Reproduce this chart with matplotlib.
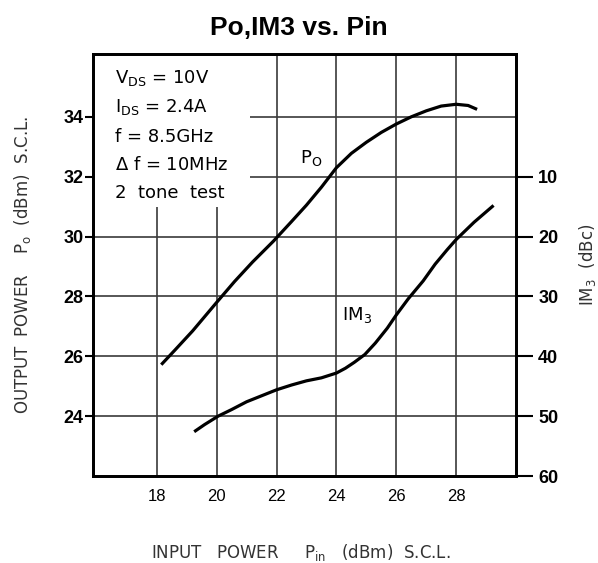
import matplotlib
matplotlib.use('Agg')
import matplotlib.pyplot as plt
from matplotlib.patches import Rectangle

plt.rcParams['font.family'] = ['DejaVu Sans']
plt.rcParams['mathtext.default'] = 'regular'

# Po curve (dBm) vs input power (dBm)
pin_po = [18.15, 18.6, 19.2, 20.0, 20.6, 21.2, 21.9, 22.5, 23.0, 23.5, 24.0, 24.5,
          25.0, 25.5, 26.0, 26.5, 27.0, 27.5, 28.0, 28.4, 28.7]
po = [25.72, 26.2, 26.85, 27.8, 28.5, 29.15, 29.85, 30.5, 31.05, 31.65, 32.3, 32.78,
      33.15, 33.48, 33.76, 34.0, 34.2, 34.36, 34.42, 34.38, 34.25]

# IM3 curve (dBc) vs input power (dBm)
pin_im3 = [19.25, 19.6, 20.05, 20.5, 21.0, 21.5, 22.0, 22.5, 23.0, 23.5, 24.0, 24.3,
           24.6, 24.95, 25.3, 25.7, 26.0, 26.4, 26.9, 27.3, 27.7, 28.0, 28.6, 29.25]
im3 = [52.6, 51.4, 50.0, 48.9, 47.6, 46.6, 45.6, 44.8, 44.1, 43.6, 42.8, 42.0,
       41.0, 39.7, 37.8, 35.3, 33.1, 30.4, 27.4, 24.6, 22.2, 20.5, 17.6, 14.8]

x_ticks = [18, 20, 22, 24, 26, 28]
po_ticks = [24, 26, 28, 30, 32, 34]
im3_ticks = [10, 20, 30, 40, 50, 60]

conditions = [r'V$_{DS}$ = 10V', r'I$_{DS}$ = 2.4A', 'f = 8.5GHz',
              r'$\Delta$ f = 10MHz', '2  tone  test']

fig = plt.figure(figsize=(5.98, 5.63), dpi=100)
ax = fig.add_axes([0.1555, 0.1545, 0.7074, 0.7496])
ax.set_xlim(15.87, 30.0)
ax.set_ylim(22.0, 36.1)

ax.set_xticks(x_ticks)
ax.set_yticks(po_ticks)
ax.grid(True, color='#3a3a3a', linewidth=1.2)
ax.set_axisbelow(True)
ax.tick_params(axis='x', length=0, pad=9)
ax.tick_params(axis='y', length=6, width=1.5, pad=1)
for lab in ax.get_xticklabels():
    lab.set_fontfamily('Liberation Sans')
    lab.set_fontsize(12)
for lab in ax.get_yticklabels():
    lab.set_fontfamily('Liberation Sans')
    lab.set_fontsize(13)
    lab.set_fontweight('bold')
# only 32 and 34 have outside tick marks
for t in ax.yaxis.get_major_ticks()[:4]:
    t.tick1line.set_visible(False)
for sp in ax.spines.values():
    sp.set_linewidth(2)

# white area behind the test conditions
ax.add_patch(Rectangle((15.87, 31.0), 21.1 - 15.87, 36.1 - 31.0,
                       facecolor='white', edgecolor='none', zorder=1))

ax.plot(pin_po, po, color='black', linewidth=2.3, zorder=3,
        solid_joinstyle='round', solid_capstyle='butt')

ax2 = ax.twinx()
ax2.set_ylim(60, -10.5)
ax2.set_yticks(im3_ticks)
ax2.tick_params(axis='y', length=12, width=1.5, pad=4)
for lab in ax2.get_yticklabels():
    lab.set_fontfamily('Liberation Sans')
    lab.set_fontsize(13)
    lab.set_fontweight('bold')
for sp in ax2.spines.values():
    sp.set_linewidth(2)
ax2.plot(pin_im3, im3, color='black', linewidth=2.3, zorder=3,
         solid_joinstyle='round', solid_capstyle='butt')

ax.text(22.8, 32.63, r'P$_O$', fontsize=13, va='center')
ax.text(24.2, 27.38, r'IM$_3$', fontsize=13, va='center')

y_lines = [35.3, 34.33, 33.33, 32.39, 31.46]
for yv, line in zip(y_lines, conditions):
    ax.text(16.6, yv, line, fontsize=13, va='center', zorder=4)

ax.set_ylabel(r'OUTPUT  POWER    P$_o$  (dBm)  S.C.L.', fontsize=12, color='#333333')
ax.yaxis.set_label_coords(-0.142, 0.5)
ax2.set_ylabel(r'IM$_3$  (dBc)', fontsize=12, color='#333333')
ax2.yaxis.set_label_coords(1.145, 0.5)
fig.text(0.503, 0.0195, r'INPUT   POWER     P$_{in}$   (dBm)  S.C.L.', fontsize=12,
         color='#333333', ha='center', va='center')

fig.text(0.5, 0.95, 'Po,IM3 vs. Pin', fontsize=19, fontweight='bold',
         fontfamily='Liberation Sans', ha='center', va='center')

fig.savefig('out.png', dpi=100)
